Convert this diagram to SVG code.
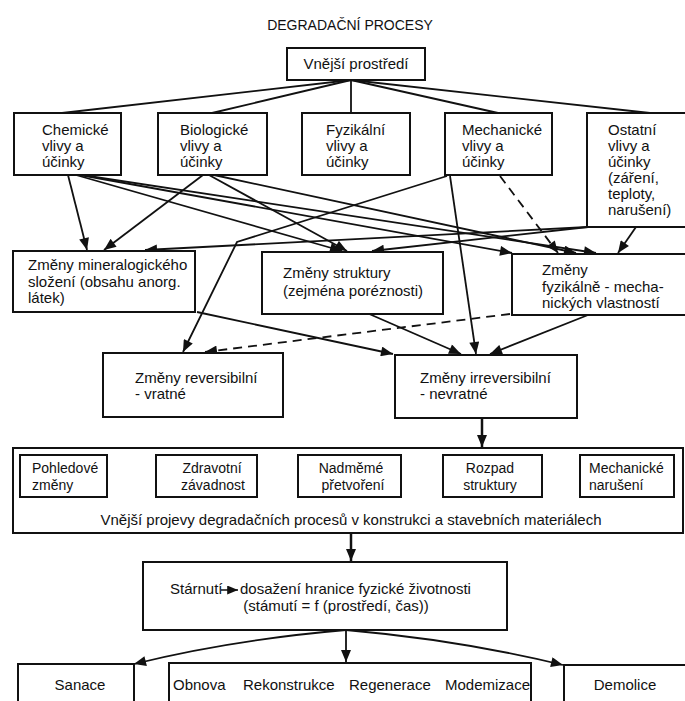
<svg xmlns="http://www.w3.org/2000/svg" width="685" height="701" viewBox="0 0 685 701">
<defs>
<marker id="ah" viewBox="0 0 12 10" refX="12" refY="5" markerWidth="13" markerHeight="10" markerUnits="userSpaceOnUse" orient="auto"><path d="M0,0 L12,5 L0,10 z" fill="#111"/></marker>
<marker id="ahs" viewBox="0 0 12 10" refX="12" refY="5" markerWidth="11" markerHeight="9" markerUnits="userSpaceOnUse" orient="auto"><path d="M0,0 L12,5 L0,10 z" fill="#111"/></marker>
</defs>
<style>
text{font-family:"Liberation Sans",Arial,sans-serif;font-size:15px;fill:#111}
.t{font-size:14px}
.c{text-anchor:middle}
rect{fill:#fff;stroke:#111;stroke-width:2}
.ln{fill:none;stroke:#111;stroke-width:1.8}
.ar{fill:none;stroke:#111;stroke-width:1.8;marker-end:url(#ah)}
.da{fill:none;stroke:#111;stroke-width:1.8;stroke-dasharray:9,6;marker-end:url(#ah)}
.th{fill:none;stroke:#111;stroke-width:2.5;marker-end:url(#ah)}
</style>
<rect x="0" y="0" width="685" height="701" style="stroke:none"/>
<text class="t c" x="350" y="30">DEGRADAČNÍ PROCESY</text>

<g id="connectors">
<!-- fan from Vnější prostředí -->
<line class="ln" x1="351" y1="80" x2="62" y2="113"/>
<line class="ln" x1="351" y1="80" x2="212" y2="113"/>
<line class="ln" x1="351" y1="80" x2="351" y2="113"/>
<line class="ln" x1="351" y1="80" x2="498" y2="113"/>
<line class="ln" x1="351" y1="80" x2="650" y2="113"/>
<!-- row1 to row2 -->
<line class="ar" x1="68" y1="175" x2="87" y2="250"/>
<line class="ar" x1="203" y1="175" x2="104" y2="250"/>
<line class="ar" x1="588" y1="227" x2="145" y2="250"/>
<line class="ar" x1="76" y1="175" x2="342" y2="251"/>
<line class="ar" x1="209" y1="175" x2="347" y2="251"/>
<line class="ar" x1="588" y1="227" x2="372" y2="251"/>
<line class="ar" x1="80" y1="175" x2="512" y2="253"/>
<line class="ar" x1="82" y1="175" x2="596" y2="253"/>
<line class="ar" x1="214" y1="175" x2="576" y2="253"/>
<line class="da" x1="500" y1="176" x2="558" y2="253"/>
<line class="ar" x1="636" y1="227" x2="618" y2="253"/>
<!-- Mechanické to reversibilní / irreversibilní -->
<polyline class="ar" points="447,176 237,242 183,352"/>
<line class="ar" x1="450" y1="176" x2="476" y2="354"/>
<!-- row2 to row3 -->
<line class="ar" x1="197" y1="312" x2="393" y2="354"/>
<line class="ar" x1="367" y1="313" x2="461" y2="354"/>
<line class="ar" x1="588" y1="315" x2="490" y2="354"/>
<line class="da" x1="510" y1="314" x2="205" y2="352"/>
<!-- lower chain -->
<line class="th" x1="482" y1="418" x2="482" y2="447"/>
<line class="th" x1="351" y1="533" x2="351" y2="561"/>
<line class="ar" x1="346" y1="630" x2="346" y2="662"/>
<path class="ar" d="M346,630 Q230,640 134,664"/>
<path class="ar" d="M346,630 Q460,640 563,665"/>
</g>

<g id="n-vnejsi"><rect x="287" y="48" width="138" height="32"/><text class="c" x="356" y="69">Vnější prostředí</text></g>

<g id="n-chem"><rect x="14" y="113" width="107" height="62"/><text x="42" y="135">Chemické</text><text x="42" y="151">vlivy a</text><text x="42" y="167">účinky</text></g>
<g id="n-bio"><rect x="158" y="113" width="109" height="62"/><text x="180" y="135">Biologické</text><text x="180" y="151">vlivy a</text><text x="180" y="167">účinky</text></g>
<g id="n-fyz"><rect x="302" y="113" width="108" height="62"/><text x="326" y="135">Fyzikální</text><text x="326" y="151">vlivy a</text><text x="326" y="167">účinky</text></g>
<g id="n-mech"><rect x="445" y="113" width="107" height="62"/><text x="462" y="135">Mechanické</text><text x="462" y="151">vlivy a</text><text x="462" y="167">účinky</text></g>
<g id="n-ost"><rect x="587" y="113" width="110" height="114"/><text x="608" y="135">Ostatní</text><text x="608" y="151">vlivy a</text><text x="608" y="167">účinky</text><text x="608" y="183">(záření,</text><text x="608" y="199">teploty,</text><text x="608" y="215">narušení)</text></g>

<g id="n-miner"><rect x="13" y="251" width="182" height="61"/><text x="28" y="270">Změny mineralogického</text><text x="28" y="287">složení (obsahu anorg.</text><text x="28" y="303">látek)</text></g>
<g id="n-strukt"><rect x="262" y="252" width="181" height="62"/><text x="283" y="278">Změny struktury</text><text x="283" y="296">(zejména poréznosti)</text></g>
<g id="n-fyzmech"><rect x="512" y="254" width="180" height="61"/><text x="542" y="275">Změny</text><text x="542" y="292">fyzikálně - mecha-</text><text x="542" y="308">nických vlastností</text></g>

<g id="n-rev"><rect x="103" y="353" width="180" height="64"/><text x="135" y="383">Změny reversibilní</text><text x="135" y="399">- vratné</text></g>
<g id="n-irrev"><rect x="395" y="355" width="182" height="63"/><text x="420" y="383">Změny irreversibilní</text><text x="420" y="399">- nevratné</text></g>

<g id="n-projevy"><rect x="13" y="448" width="670" height="85"/>
<text class="c" x="351" y="525">Vnější projevy degradačních procesů v konstrukci a stavebních materiálech</text></g>
<g id="n-pohled"><rect x="20" y="455" width="87" height="42"/><text class="t" x="32" y="473">Pohledové</text><text class="t" x="32" y="490">změny</text></g>
<g id="n-zdrav"><rect x="156" y="455" width="101" height="42"/><text class="t c" x="212" y="473">Zdravotní</text><text class="t c" x="213" y="490">závadnost</text></g>
<g id="n-nadm"><rect x="298" y="455" width="103" height="42"/><text class="t c" x="351" y="473">Nadměmé</text><text class="t c" x="353" y="490">přetvoření</text></g>
<g id="n-rozpad"><rect x="443" y="455" width="99" height="42"/><text class="t c" x="490" y="473">Rozpad</text><text class="t c" x="490" y="490">struktury</text></g>
<g id="n-mechnar"><rect x="580" y="455" width="94" height="42"/><text class="t" x="589" y="473">Mechanické</text><text class="t" x="589" y="490">narušení</text></g>

<g id="n-starnuti"><rect x="143" y="562" width="364" height="68"/>
<text x="170" y="594">Stárnutí</text>
<line x1="221" y1="590" x2="238" y2="590" stroke="#111" stroke-width="1.5" marker-end="url(#ahs)"/>
<text x="240" y="594">dosažení hranice fyzické životnosti</text>
<text class="c" x="336" y="611">(stámutí = f (prostředí, čas))</text></g>

<g id="n-sanace"><rect x="18" y="664" width="116" height="50"/><text class="c" x="80" y="690">Sanace</text></g>
<g id="n-obnova"><rect x="169" y="663" width="362" height="50"/><text x="173" y="690">Obnova</text><text x="243" y="690">Rekonstrukce</text><text x="349" y="690">Regenerace</text><text x="445" y="690">Modemizace</text></g>
<g id="n-demolice"><rect x="564" y="665" width="130" height="50"/><text class="c" x="625" y="690">Demolice</text></g>
</svg>
